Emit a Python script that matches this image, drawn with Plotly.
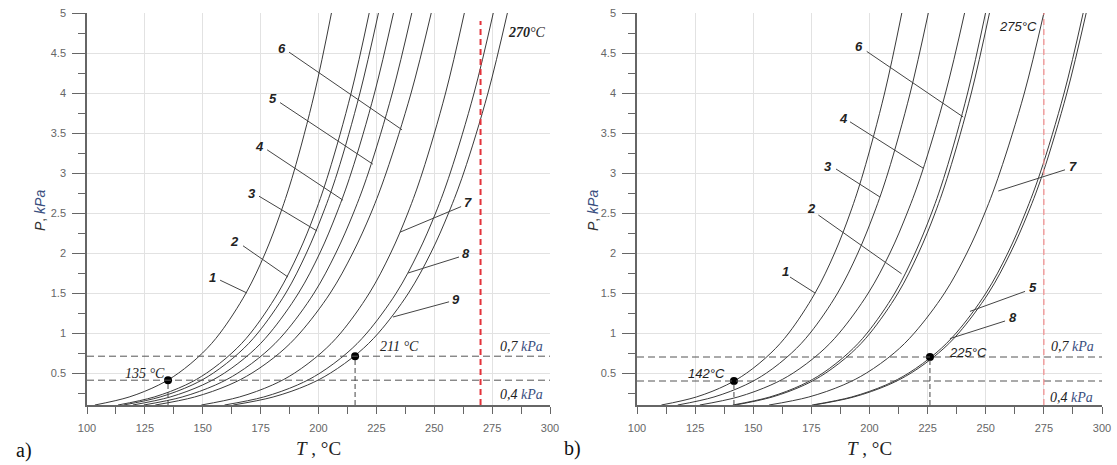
import plotly.graph_objects as go

W, H = 1117, 465

# Pressure levels (kPa) at which curve temperatures were read
P_LEVELS = [0.1, 0.2, 0.35, 0.5, 0.75, 1, 1.5, 2, 2.5, 3, 4, 5]

# Panel a) temperatures (degC) for curves 1..9
A_CURVES = {
    "1": [103.4, 118.2, 131.0, 139.6, 149.9, 157.5, 168.7, 177.0, 183.6, 189.2, 198.3, 205.6],
    "2": [113.4, 129.0, 142.6, 151.7, 162.6, 170.7, 182.5, 191.4, 198.5, 204.4, 214.1, 221.9],
    "3": [115.8, 131.6, 145.4, 154.6, 165.6, 173.8, 185.9, 194.8, 202.0, 208.1, 217.9, 225.9],
    "4": [119.8, 135.9, 149.9, 159.4, 170.7, 179.0, 191.4, 200.6, 207.9, 214.1, 224.2, 232.4],
    "5": [124.5, 141.1, 155.5, 165.2, 176.8, 185.4, 198.1, 207.5, 215.1, 221.5, 231.9, 240.3],
    "6": [129.5, 146.5, 161.3, 171.3, 183.2, 192.0, 205.1, 214.8, 222.7, 229.2, 240.0, 248.7],
    "7": [149.4, 165.8, 180.1, 189.7, 201.1, 209.6, 222.0, 231.2, 238.6, 244.8, 254.9, 263.0],
    "8": [159.4, 176.3, 190.9, 200.7, 212.3, 220.9, 233.6, 243.0, 250.6, 256.9, 267.2, 275.5],
    "9": [163.2, 180.4, 195.3, 205.2, 217.1, 225.9, 238.9, 248.5, 256.2, 262.7, 273.2, 281.6],
}

# Panel b) temperatures (degC) for curves 1..8
B_CURVES = {
    "1": [110.5, 125.5, 138.5, 147.2, 157.6, 165.3, 176.6, 185.0, 191.7, 197.3, 206.5, 213.9],
    "2": [141.2, 157.1, 170.8, 180.0, 190.9, 199.0, 210.9, 219.6, 226.7, 232.6, 242.2, 249.9],
    "3": [117.5, 133.1, 146.6, 155.7, 166.5, 174.5, 186.3, 195.0, 202.0, 207.9, 217.5, 225.3],
    "4": [127.0, 143.4, 157.6, 167.2, 178.6, 187.0, 199.5, 208.8, 216.2, 222.5, 232.7, 240.9],
    "5": [176.1, 193.2, 208.0, 217.9, 229.7, 238.4, 251.2, 260.6, 268.2, 274.6, 284.9, 293.2],
    "6": [142.3, 158.2, 172.0, 181.2, 192.2, 200.3, 212.3, 221.1, 228.2, 234.1, 243.8, 251.6],
    "7": [156.8, 173.9, 188.7, 198.7, 210.6, 219.3, 232.3, 241.9, 249.6, 256.0, 266.6, 275.0],
    "8": [175.3, 192.3, 207.0, 216.9, 228.6, 237.3, 250.1, 259.5, 267.0, 273.4, 283.7, 291.9],
}

# Marked points
A_POINTS_T = [135, 215.8]
A_POINTS_P = [0.41, 0.71]
B_POINTS_T = [141.7, 226]
B_POINTS_P = [0.40, 0.70]

A_HLINES = [0.71, 0.41]
B_HLINES = [0.70, 0.40]
A_LIMIT_T = 270
B_LIMIT_T = 275

# Curve labels: label, text (T,P), leader start (T,P), leader end (T,P)
A_LABELS = [
    ("1", (154.4, 1.70), (157.5, 1.66), (169.1, 1.50)),
    ("2", (163.9, 2.14), (167.4, 2.09), (186.8, 1.70)),
    ("3", (171.3, 2.75), (174.3, 2.71), (199.4, 2.275)),
    ("4", (174.7, 3.33), (177.8, 3.29), (210.6, 2.66)),
    ("5", (180.3, 3.93), (183.4, 3.88), (223.5, 3.11)),
    ("6", (184.2, 4.56), (187.3, 4.51), (236.1, 3.54)),
    ("7", (264.6, 2.63), (261.6, 2.58), (235.2, 2.26)),
    ("8", (263.7, 2.00), (260.7, 1.95), (238.7, 1.75)),
    ("9", (259.4, 1.425), (256.4, 1.39), (232.2, 1.20)),
]
B_LABELS = [
    ("1", (163.7, 1.77), (165.8, 1.70), (176.6, 1.50)),
    ("2", (175.1, 2.56), (178.0, 2.475), (213.8, 1.74)),
    ("3", (182.3, 3.08), (185.6, 3.05), (204.5, 2.70)),
    ("4", (188.7, 3.68), (191.6, 3.64), (223.1, 3.06)),
    ("6", (195.6, 4.58), (198.8, 4.52), (240.3, 3.70)),
    ("7", (287.7, 3.08), (284.1, 3.04), (255.4, 2.775)),
    ("5", (270.5, 1.57), (266.9, 1.52), (243.2, 1.27)),
    ("8", (261.9, 1.20), (258.3, 1.15), (234.6, 0.93)),
]

X_TICKS = [100, 125, 150, 175, 200, 225, 250, 275, 300]
Y_TICKS = [0.5, 1, 1.5, 2, 2.5, 3, 3.5, 4, 4.5, 5]
Y_TICKTEXT = ["0.5", "1", "1.5", "2", "2.5", "3", "3.5", "4", "4.5", "5"]

CURVE_COLOR = "#3a3a3a"
fig = go.Figure()

def add_curves(curves, xa, ya):
    for name, temps in curves.items():
        fig.add_trace(go.Scatter(x=temps, y=P_LEVELS, mode="lines",
                                 line=dict(color=CURVE_COLOR, width=1, shape="spline", smoothing=1.0),
                                 xaxis=xa, yaxis=ya, hoverinfo="skip", showlegend=False))

add_curves(A_CURVES, "x", "y")
add_curves(B_CURVES, "x2", "y2")

shapes = []
annotations = []

def ann(x, y, text, xr, yr, family, size, color="#222", **kw):
    annotations.append(dict(x=x, y=y, xref=xr, yref=yr, text=text, showarrow=False,
                            xanchor="center", yanchor="middle",
                            font=dict(family=family, size=size, color=color), **kw))

def panel_decor(xr, yr, hlines, limit_t, limit_color, limit_w, limit_top, pts_t, pts_p, labels):
    for h in hlines:
        shapes.append(dict(type="line", xref=xr, yref=yr, x0=100, x1=300, y0=h, y1=h,
                           line=dict(color="#555", width=1, dash="7px,4px")))
    shapes.append(dict(type="line", xref=xr, yref=yr, x0=limit_t, x1=limit_t, y0=0.1, y1=limit_top,
                       line=dict(color=limit_color, width=limit_w, dash="6px,4px")))
    for t, p in zip(pts_t, pts_p):
        shapes.append(dict(type="line", xref=xr, yref=yr, x0=t, x1=t, y0=0.1, y1=p,
                           line=dict(color="#444", width=1, dash="5px,3px")))
    for lab, txt, s, e in labels:
        shapes.append(dict(type="line", xref=xr, yref=yr, x0=s[0], y0=s[1], x1=e[0], y1=e[1],
                           line=dict(color="#444", width=1)))
        ann(txt[0], txt[1], "<i><b>%s</b></i>" % lab, xr, yr, "Liberation Sans", 13)

panel_decor("x", "y", A_HLINES, A_LIMIT_T, "#e3323a", 2, 4.9, A_POINTS_T, A_POINTS_P, A_LABELS)
panel_decor("x2", "y2", B_HLINES, B_LIMIT_T, "#f28a8a", 1.2, 5.0, B_POINTS_T, B_POINTS_P, B_LABELS)

fig.add_trace(go.Scatter(x=A_POINTS_T, y=A_POINTS_P, mode="markers", marker=dict(color="black", size=8),
                         xaxis="x", yaxis="y", hoverinfo="skip", showlegend=False))
fig.add_trace(go.Scatter(x=B_POINTS_T, y=B_POINTS_P, mode="markers", marker=dict(color="black", size=8),
                         xaxis="x2", yaxis="y2", hoverinfo="skip", showlegend=False))

SERIF = "Liberation Serif"
SANS = "Liberation Sans"
KPA = "<span style='color:#3a4f80'>kPa</span>"

# Panel a texts
ann(290.1, 4.76, "<i><b>270</b></i><i>°C</i>", "x", "y", SERIF, 14)
ann(235.2, 0.83, "<i>211 °C</i>", "x", "y", SERIF, 14)
ann(125.1, 0.50, "<i>135 °C</i>", "x", "y", SERIF, 14)
ann(287.5, 0.83, "<i>0,7 " + KPA + "</i>", "x", "y", SERIF, 14)
ann(287.5, 0.23, "<i>0,4 " + KPA + "</i>", "x", "y", SERIF, 14)
# Panel b texts
ann(263.9, 4.83, "<i>275°C</i>", "x2", "y2", SANS, 13)
ann(242.4, 0.76, "<i>225°C</i>", "x2", "y2", SANS, 13)
ann(129.7, 0.50, "<i>142°C</i>", "x2", "y2", SANS, 13)
ann(287.1, 0.83, "<i>0,7 " + KPA + "</i>", "x2", "y2", SERIF, 14)
ann(286.7, 0.20, "<i>0,4 " + KPA + "</i>", "x2", "y2", SERIF, 14)

def px(xp, yp):
    return xp / W, 1 - yp / H

for (xp, yp, text) in [(318, 448, "<i>T</i> , °C"), (869, 448, "<i>T</i> , °C")]:
    x, y = px(xp, yp)
    ann(x, y, text, "paper", "paper", SERIF, 19, color="#222")
for (xp, yp) in [(40, 211), (593, 211)]:
    x, y = px(xp, yp)
    ann(x, y, "<i>P</i>, <i>" + KPA + "</i>", "paper", "paper", SANS, 14, color="#333", textangle=-90)
for (xp, yp, text) in [(24, 450, "a)"), (572, 448, "b)")]:
    x, y = px(xp, yp)
    ann(x, y, text, "paper", "paper", SERIF, 20, color="#111")

def xaxis_cfg(dom, anchor):
    return dict(domain=dom, range=[100, 300], anchor=anchor, tickvals=X_TICKS, automargin=False,
                showgrid=True, gridcolor="#e2e2e2", gridwidth=1, zeroline=False,
                showline=True, linecolor="#666", linewidth=1.5,
                ticks="outside", ticklen=7, tickcolor="#666", tickwidth=1, ticklabelstandoff=5,
                tickfont=dict(family=SANS, size=11, color="#666"),
                minor=dict(dtick=12.5, tick0=100, ticks="outside", ticklen=7, tickcolor="#666", showgrid=False))

def yaxis_cfg(dom, anchor):
    return dict(domain=dom, range=[0.1, 5], anchor=anchor, tickvals=Y_TICKS, ticktext=Y_TICKTEXT,
                automargin=False,
                showgrid=True, gridcolor="#e2e2e2", gridwidth=1, zeroline=False,
                showline=True, linecolor="#666", linewidth=1.5,
                ticks="outside", ticklen=13, tickcolor="#666", tickwidth=1, ticklabelstandoff=4,
                tickfont=dict(family=SANS, size=11, color="#666"),
                minor=dict(dtick=0.25, tick0=0, ticks="outside", ticklen=7, tickcolor="#666", showgrid=False))

ydom = [1 - 405 / H, 1 - 13 / H]
fig.update_layout(
    width=W, height=H, margin=dict(l=0, r=0, t=0, b=0, pad=0, autoexpand=False),
    paper_bgcolor="white", plot_bgcolor="white", showlegend=False,
    xaxis=xaxis_cfg([87 / W, 550 / W], "y"),
    yaxis=yaxis_cfg(ydom, "x"),
    xaxis2=xaxis_cfg([637 / W, 1102 / W], "y2"),
    yaxis2=yaxis_cfg(ydom, "x2"),
    shapes=shapes, annotations=annotations,
)

fig.write_html("out.html")
